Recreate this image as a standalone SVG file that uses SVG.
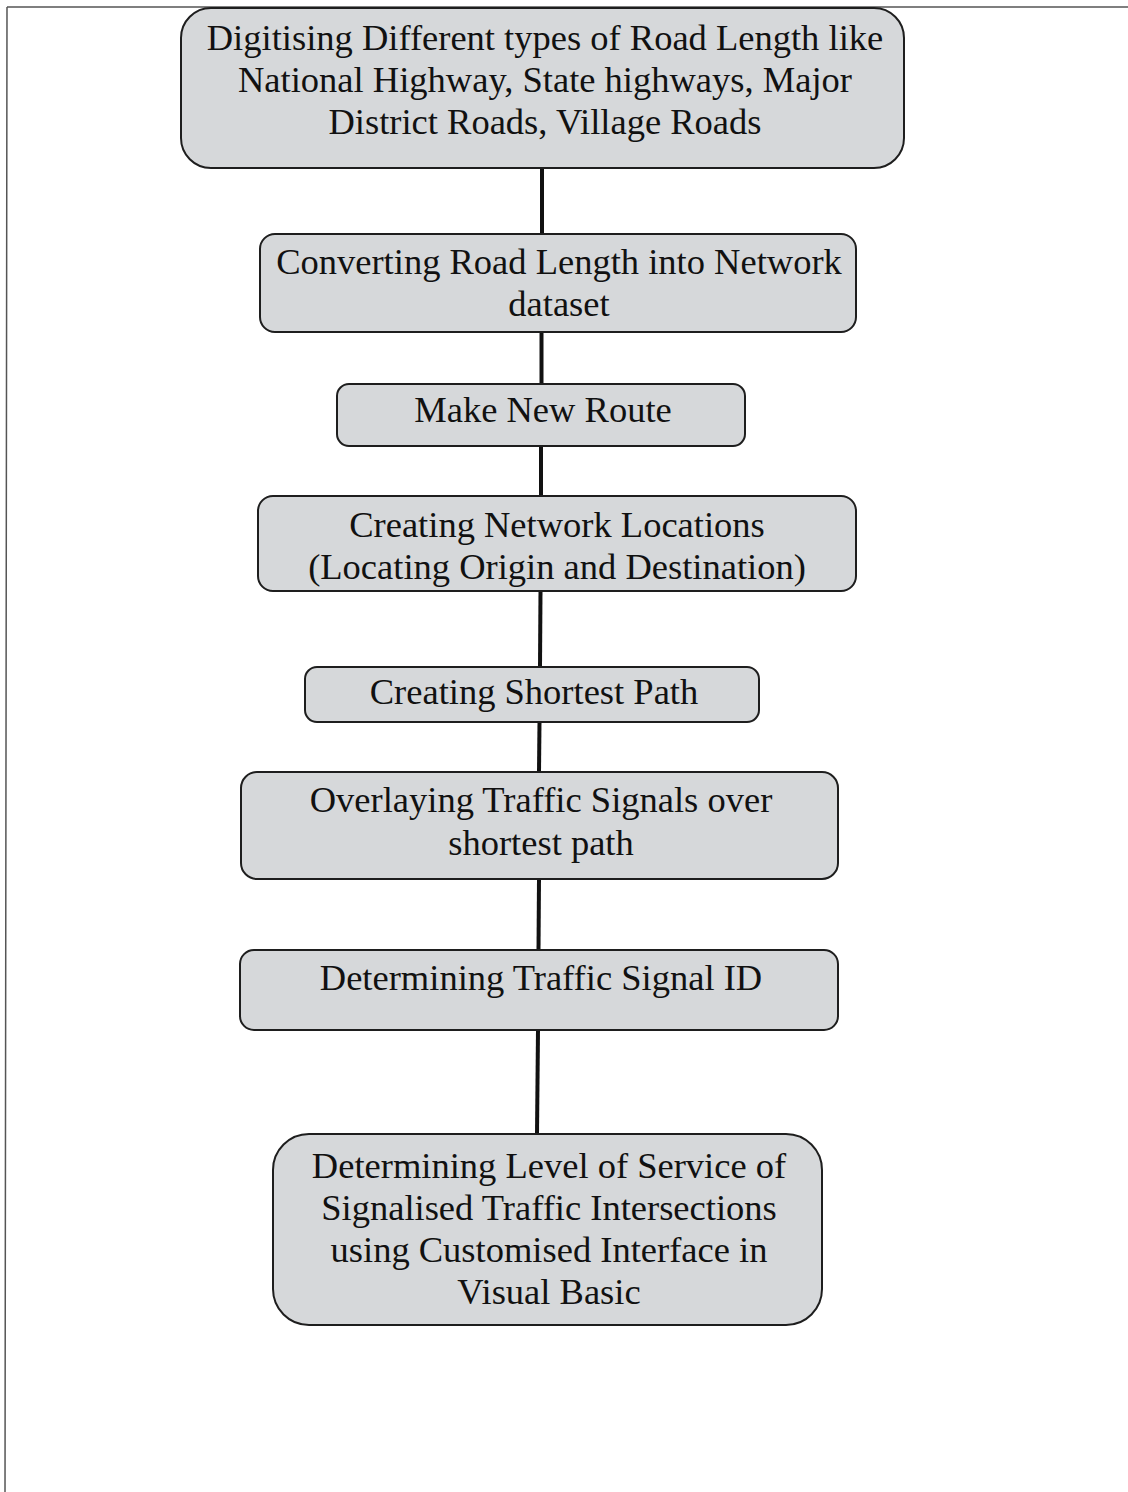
<svg xmlns="http://www.w3.org/2000/svg" width="1128" height="1492" viewBox="0 0 1128 1492">
<style>
.box{fill:#d6d8da;stroke:#1e1e1e;stroke-width:2}
.t{font-family:"Liberation Serif","Times New Roman",serif;font-size:36.5px;fill:#111;text-anchor:middle}
.c{stroke:#111;stroke-width:4;fill:none}
.f{stroke:#555;stroke-width:1.5;fill:none}
</style>
<rect width="1128" height="1492" fill="#fff"/>
<g id="frame"><path class="f" d="M1128 7 H7 M7 7 L5 1492"/></g>
<g id="connectors">
<line class="c" x1="542" y1="168" x2="542" y2="234"/>
<line class="c" x1="541.5" y1="332" x2="541.5" y2="384"/>
<line class="c" x1="541" y1="446" x2="541" y2="496"/>
<line class="c" x1="540.5" y1="591" x2="540" y2="667"/>
<line class="c" x1="539.5" y1="722" x2="539" y2="772"/>
<line class="c" x1="539" y1="879" x2="538.5" y2="950"/>
<line class="c" x1="538" y1="1030" x2="537" y2="1134"/>
</g>
<g id="n1"><rect class="box" x="181" y="8" width="723" height="160" rx="30"/>
<text class="t" x="545" y="50">Digitising Different types of Road Length like</text>
<text class="t" x="545" y="92">National Highway, State highways, Major</text>
<text class="t" x="545" y="134">District Roads, Village Roads</text></g>
<g id="n2"><rect class="box" x="260" y="234" width="596" height="98" rx="15"/>
<text class="t" x="559" y="274">Converting Road Length into Network</text>
<text class="t" x="559" y="316">dataset</text></g>
<g id="n3"><rect class="box" x="337" y="384" width="408" height="62" rx="12"/>
<text class="t" x="543" y="422">Make New Route</text></g>
<g id="n4"><rect class="box" x="258" y="496" width="598" height="95" rx="15"/>
<text class="t" x="557" y="537">Creating Network Locations</text>
<text class="t" x="557" y="579">(Locating Origin and Destination)</text></g>
<g id="n5"><rect class="box" x="305" y="667" width="454" height="55" rx="12"/>
<text class="t" x="534" y="704">Creating Shortest Path</text></g>
<g id="n6"><rect class="box" x="241" y="772" width="597" height="107" rx="16"/>
<text class="t" x="541" y="812">Overlaying Traffic Signals over</text>
<text class="t" x="541" y="855">shortest path</text></g>
<g id="n7"><rect class="box" x="240" y="950" width="598" height="80" rx="14"/>
<text class="t" x="541" y="990">Determining Traffic Signal ID</text></g>
<g id="n8"><rect class="box" x="273" y="1134" width="549" height="191" rx="36"/>
<text class="t" x="549" y="1178">Determining Level of Service of</text>
<text class="t" x="549" y="1220">Signalised Traffic Intersections</text>
<text class="t" x="549" y="1262">using Customised Interface in</text>
<text class="t" x="549" y="1304">Visual Basic</text></g>
</svg>
